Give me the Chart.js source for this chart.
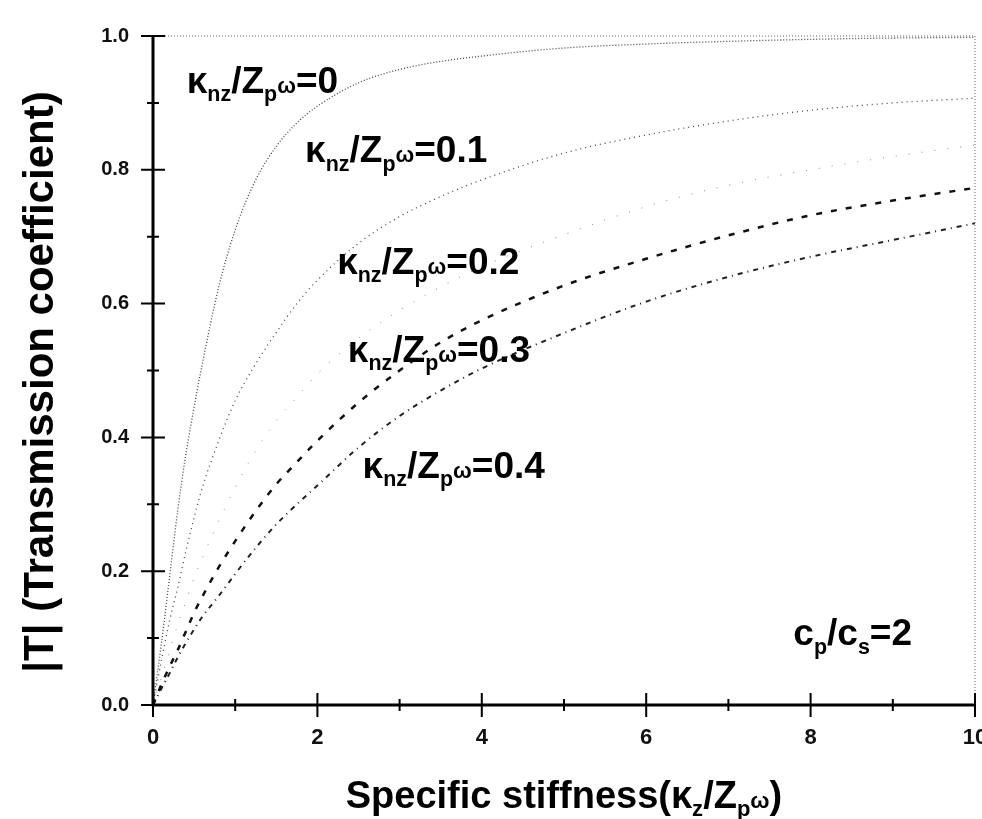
<!DOCTYPE html>
<html>
<head>
<meta charset="utf-8">
<script src="https://cdn.jsdelivr.net/npm/chart.js@4"></script>
<style>
  html, body { margin: 0; padding: 0; background: #fff; }
  #wrap { width: 982px; height: 819px; }
</style>
</head>
<body>
<div id="wrap"><canvas id="tChart" width="982" height="819"></canvas></div>
<script>
// DATA
const xs = [0, 0.1, 0.2, 0.3, 0.4, 0.5, 0.6, 0.8, 1, 1.25, 1.5, 1.75, 2, 2.5, 3, 3.5, 4, 5, 6, 7, 8, 9, 10];
const t00 = [0, 0.09, 0.19, 0.29, 0.375, 0.445, 0.51, 0.625, 0.71, 0.785, 0.835, 0.87, 0.895, 0.93, 0.95, 0.962, 0.97, 0.982, 0.988, 0.992, 0.995, 0.997, 0.998];
const t01 = [0, 0.065, 0.125, 0.175, 0.23, 0.28, 0.325, 0.395, 0.455, 0.51, 0.557, 0.6, 0.635, 0.69, 0.73, 0.76, 0.785, 0.825, 0.852, 0.873, 0.889, 0.9, 0.907];
const t02 = [0, 0.04, 0.08, 0.12, 0.155, 0.19, 0.22, 0.275, 0.325, 0.38, 0.425, 0.46, 0.495, 0.548, 0.59, 0.625, 0.655, 0.703, 0.745, 0.777, 0.8, 0.82, 0.837];
const t03 = [0, 0.03, 0.057, 0.082, 0.11, 0.138, 0.162, 0.206, 0.245, 0.29, 0.33, 0.363, 0.395, 0.452, 0.5, 0.542, 0.575, 0.627, 0.667, 0.702, 0.732, 0.754, 0.773];
const t04 = [0, 0.024, 0.047, 0.071, 0.093, 0.113, 0.132, 0.163, 0.196, 0.235, 0.27, 0.3, 0.328, 0.385, 0.432, 0.47, 0.503, 0.556, 0.603, 0.64, 0.67, 0.695, 0.72];
const curveNames = ["0", "0.1", "0.2", "0.3", "0.4"];
// where each curve label sits (data coords)
const labelAt = [[0.41, 0.915], [1.85, 0.811], [2.24, 0.644], [2.37, 0.513], [2.55, 0.339]];
const noteAt = [7.79, 0.089];

const FONT = '"Liberation Sans", Arial, Helvetica, sans-serif';

function pts(ys) {
  return xs.map((x, i) => ({ x: x, y: ys[i] }));
}

function drawRich(ctx, parts, x, y, size) {
  parts.forEach((p) => {
    const s = size * (p.s || 1);
    ctx.font = "bold " + s + "px " + FONT;
    ctx.fillText(p.t, x, y + size * (p.dy || 0));
    x += ctx.measureText(p.t).width;
  });
  return x;
}
function richWidth(ctx, parts, size) {
  let w = 0;
  parts.forEach((p) => {
    ctx.font = "bold " + size * (p.s || 1) + "px " + FONT;
    w += ctx.measureText(p.t).width;
  });
  return w;
}

const SUB = { s: 0.58, dy: 0.22 };

// axes, ticks, frame, titles and text notes
const decor = {
  id: "decor",
  afterDraw(chart) {
    const { ctx, chartArea: a, scales } = chart;
    const sx = scales.x, sy = scales.y;
    ctx.save();

    // dotted frame top/right
    ctx.strokeStyle = "#666";
    ctx.lineWidth = 1;
    ctx.setLineDash([1, 2]);
    ctx.beginPath();
    ctx.moveTo(a.left, a.top);
    ctx.lineTo(a.right, a.top);
    ctx.lineTo(a.right, a.bottom);
    ctx.stroke();

    // solid axes
    ctx.setLineDash([]);
    ctx.strokeStyle = "#000";
    ctx.lineWidth = 3;
    ctx.beginPath();
    ctx.moveTo(a.left, a.top);
    ctx.lineTo(a.left, a.bottom);
    ctx.lineTo(a.right, a.bottom);
    ctx.stroke();

    // crossing ticks
    ctx.lineWidth = 2;
    ctx.beginPath();
    for (let v = 0; v <= 10; v++) {
      const px = sx.getPixelForValue(v);
      const len = v % 2 ? 6 : 12;
      ctx.moveTo(px, a.bottom - len);
      ctx.lineTo(px, a.bottom + len);
    }
    for (let i = 0; i <= 10; i++) {
      const py = sy.getPixelForValue(i / 10);
      const len = i % 2 ? 6 : 12;
      ctx.moveTo(a.left - len, py);
      ctx.lineTo(a.left + len, py);
    }
    ctx.stroke();

    ctx.fillStyle = "#000";
    ctx.textBaseline = "alphabetic";
    ctx.textAlign = "left";

    // curve labels
    curveNames.forEach((n, i) => {
      const parts = [{ t: "κ" }, { t: "nz", ...SUB }, { t: "/" }, { t: "Z" }, { t: "p", ...SUB }, { t: "ω", s: 0.6 }, { t: "=" + n }];
      drawRich(ctx, parts, sx.getPixelForValue(labelAt[i][0]), sy.getPixelForValue(labelAt[i][1]), 37);
    });
    drawRich(ctx, [{ t: "c" }, { t: "p", ...SUB }, { t: "/" }, { t: "c" }, { t: "s", ...SUB }, { t: "=2" }],
      sx.getPixelForValue(noteAt[0]), sy.getPixelForValue(noteAt[1]), 37);

    // x title
    const xt = [{ t: "Specific stiffness(" }, { t: "κ" }, { t: "z", ...SUB }, { t: "/" }, { t: "Z" }, { t: "p", ...SUB }, { t: "ω", s: 0.6 }, { t: ")" }];
    const w = richWidth(ctx, xt, 38);
    drawRich(ctx, xt, (a.left + a.right) / 2 - w / 2, 808, 38);

    // y title
    ctx.translate(41, 382);
    ctx.rotate(-Math.PI / 2);
    ctx.textAlign = "center";
    ctx.textBaseline = "middle";
    ctx.font = "bold 42px " + FONT;
    ctx.fillText("|T| (Transmission coefficient)", 0, 0);
    ctx.restore();
  },
};

const ctx = document.getElementById("tChart").getContext("2d");
new Chart(ctx, {
  type: "line",
  data: {
    datasets: [
      { data: pts(t00), borderColor: "#444", borderWidth: 1.3, borderDash: [1, 2] },
      { data: pts(t01), borderColor: "#444", borderWidth: 1.3, borderDash: [1, 4] },
      { data: pts(t02), borderColor: "#888", borderWidth: 1, borderDash: [1, 12] },
      { data: pts(t03), borderColor: "#111", borderWidth: 2.5, borderDash: [6, 9] },
      { data: pts(t04), borderColor: "#222", borderWidth: 2, borderDash: [5, 5, 1, 5] },
    ],
  },
  options: {
    responsive: false,
    animation: false,
    layout: { padding: { top: 33, right: 7, left: 0, bottom: 0 } },
    elements: { point: { radius: 0 }, line: { cubicInterpolationMode: "monotone", fill: false } },
    plugins: { legend: { display: false }, tooltip: { enabled: false } },
    scales: {
      x: {
        type: "linear",
        min: 0,
        max: 10,
        grid: { display: false, drawTicks: false },
        border: { display: false },
        ticks: { stepSize: 2, padding: 20, color: "#111", font: { family: FONT, size: 22, weight: "bold" } },
        afterFit(s) {
          s.height = 114;
          s.paddingLeft = 0;
          s.paddingRight = 0;
        },
      },
      y: {
        min: 0,
        max: 1,
        grid: { display: false, drawTicks: false },
        border: { display: false },
        ticks: {
          stepSize: 0.2,
          padding: 24,
          color: "#111",
          font: { family: FONT, size: 20, weight: "bold" },
          callback: (v) => v.toFixed(1),
        },
        afterFit(s) {
          s.width = 153;
        },
      },
    },
  },
  plugins: [decor],
});
</script>
</body>
</html>
